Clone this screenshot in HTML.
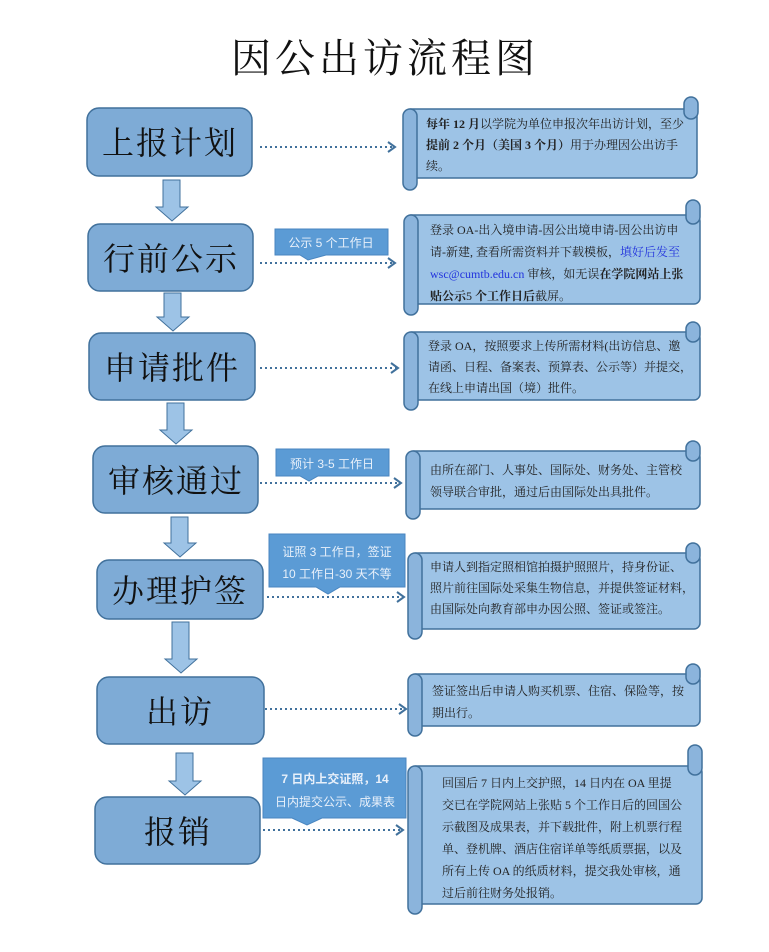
<!DOCTYPE html>
<html><head><meta charset="utf-8"><style>
body{margin:0;background:#fff;}
svg{display:block}
.bx{fill:#7eabd6;stroke:#41719c;stroke-width:1.5}
.bt{font-family:"Noto Serif CJK SC","Liberation Serif",serif;font-size:32px;fill:#111;text-anchor:middle;letter-spacing:2px}
.da{fill:#9dc3e6;stroke:#41719c;stroke-width:1}
.dot{stroke:#41719c;stroke-width:2;stroke-dasharray:2 3;fill:none}
.ah{stroke:#41719c;stroke-width:2;fill:none}
.co{fill:#5b9bd5;stroke:#4a86c0;stroke-width:1}
.ct{font-family:"Liberation Sans","Noto Sans CJK SC",sans-serif;font-size:12px;fill:#e8f0fa;text-anchor:middle}
.sc{fill:#9dc3e6;stroke:#41719c;stroke-width:1.5}
.sr{fill:#8bb4dc;stroke:#41719c;stroke-width:1.5}
.st{font-family:"Liberation Serif","Noto Serif CJK SC",serif;font-size:12px;fill:#222}
</style></head><body>
<svg width="769" height="952" viewBox="0 0 769 952">
<text x="385" y="72" font-family="Noto Serif CJK SC,serif" font-size="40" text-anchor="middle" fill="#111" letter-spacing="4">因公出访流程图</text>

<rect class="bx" x="87" y="108" width="165" height="68" rx="12"/><text class="bt" x="170" y="154">上报计划</text>
<rect class="bx" x="88" y="224" width="165" height="67" rx="12"/><text class="bt" x="171" y="270">行前公示</text>
<rect class="bx" x="89" y="333" width="166" height="67" rx="12"/><text class="bt" x="172" y="379">申请批件</text>
<rect class="bx" x="93" y="446" width="165" height="67" rx="12"/><text class="bt" x="176" y="492">审核通过</text>
<rect class="bx" x="97" y="560" width="166" height="59" rx="12"/><text class="bt" x="180" y="602">办理护签</text>
<rect class="bx" x="97" y="677" width="167" height="67" rx="12"/><text class="bt" x="180" y="723">出访</text>
<rect class="bx" x="95" y="797" width="165" height="67" rx="12"/><text class="bt" x="178" y="843">报销</text>

<g class="da">
<path d="M163 180 h17 v27 h8 l-16 14 l-16 -14 h7z"/>
<path d="M164 293 h17 v24 h8 l-16 14 l-16 -14 h7z"/>
<path d="M167 403 h17 v27 h8 l-16 14 l-16 -14 h7z"/>
<path d="M171 517 h17 v26 h8 l-16 14 l-16 -14 h7z"/>
<path d="M172 622 h17 v37 h8 l-16 14 l-16 -14 h7z"/>
<path d="M176 753 h17 v28 h8 l-16 14 l-16 -14 h7z"/>
</g>

<path class="dot" d="M260 147 H394"/><path class="ah" d="M388 142 l7 5 l-7 5"/>
<path class="dot" d="M260 263 H394"/><path class="ah" d="M388 258 l7 5 l-7 5"/>
<path class="dot" d="M260 368 H397"/><path class="ah" d="M391 363 l7 5 l-7 5"/>
<path class="dot" d="M260 483 H400"/><path class="ah" d="M394 478 l7 5 l-7 5"/>
<path class="dot" d="M267 597 H403"/><path class="ah" d="M397 592 l7 5 l-7 5"/>
<path class="dot" d="M265 709 H405"/><path class="ah" d="M399 704 l7 5 l-7 5"/>
<path class="dot" d="M263 830 H402"/><path class="ah" d="M396 825 l7 5 l-7 5"/>

<path class="co" d="M275 229 H388 V255 H326 L308 260 L300 255 H275Z"/><text class="ct" x="331" y="247">公示 5 个工作日</text>
<path class="co" d="M276 449 H389 V476 H318 L309 481 L300 476 H276Z"/><text class="ct" x="332" y="468">预计 3-5 工作日</text>
<path class="co" d="M269 534 H405 V587 H340 L328 594 L316 587 H269Z"/><text class="ct" x="337" y="556">证照 3 工作日，签证</text><text class="ct" x="337" y="578">10 工作日-30 天不等</text>
<path class="co" d="M263 758 H406 V818 H322 L307 825 L292 818 H263Z"/><text class="ct" x="335" y="783" font-weight="bold">7 日内上交证照，14</text><text class="ct" x="335" y="806">日内提交公示、成果表</text>

<g>
<rect class="sc" x="405" y="109" width="292" height="69" rx="6"/>
<rect class="sr" x="403" y="109" width="14" height="81" rx="7"/>
<rect class="sr" x="684" y="97" width="14" height="22" rx="7"/>
<text class="st"><tspan x="426" y="128"><tspan font-weight="bold">每年 12 月</tspan>以学院为单位申报次年出访计划，至少</tspan><tspan x="426" y="149"><tspan font-weight="bold">提前 2 个月（美国 3 个月）</tspan>用于办理因公出访手</tspan><tspan x="426" y="170">续。</tspan></text>
</g>
<g>
<rect class="sc" x="405" y="215" width="295" height="89" rx="6"/>
<rect class="sr" x="404" y="215" width="14" height="100" rx="7"/>
<rect class="sr" x="686" y="200" width="14" height="24" rx="7"/>
<text class="st"><tspan x="430" y="234">登录 OA-出入境申请-因公出境申请-因公出访申</tspan><tspan x="430" y="256">请-新建, 查看所需资料并下载模板，<tspan fill="#2233dd">填好后发至</tspan></tspan><tspan x="430" y="278"><tspan fill="#2233dd">wsc@cumtb.edu.cn</tspan> 审核，如无误<tspan font-weight="bold">在学院网站上张</tspan></tspan><tspan x="430" y="300"><tspan font-weight="bold">贴公示</tspan>5 <tspan font-weight="bold">个工作日后</tspan>截屏。</tspan></text>
</g>
<g>
<rect class="sc" x="406" y="332" width="294" height="68" rx="6"/>
<rect class="sr" x="404" y="332" width="14" height="78" rx="7"/>
<rect class="sr" x="686" y="322" width="14" height="20" rx="7"/>
<text class="st"><tspan x="428" y="350">登录 OA，按照要求上传所需材料(出访信息、邀</tspan><tspan x="428" y="371">请函、日程、备案表、预算表、公示等）并提交，</tspan><tspan x="428" y="392">在线上申请出国（境）批件。</tspan></text>
</g>
<g>
<rect class="sc" x="408" y="451" width="292" height="58" rx="6"/>
<rect class="sr" x="406" y="451" width="14" height="68" rx="7"/>
<rect class="sr" x="686" y="441" width="14" height="20" rx="7"/>
<text class="st"><tspan x="430" y="474">由所在部门、人事处、国际处、财务处、主管校</tspan><tspan x="430" y="496">领导联合审批，通过后由国际处出具批件。</tspan></text>
</g>
<g>
<rect class="sc" x="410" y="553" width="290" height="76" rx="6"/>
<rect class="sr" x="408" y="553" width="14" height="86" rx="7"/>
<rect class="sr" x="686" y="543" width="14" height="20" rx="7"/>
<text class="st"><tspan x="430" y="571">申请人到指定照相馆拍摄护照照片，持身份证、</tspan><tspan x="430" y="592">照片前往国际处采集生物信息，并提供签证材料，</tspan><tspan x="430" y="613">由国际处向教育部申办因公照、签证或签注。</tspan></text>
</g>
<g>
<rect class="sc" x="410" y="674" width="290" height="52" rx="6"/>
<rect class="sr" x="408" y="674" width="14" height="62" rx="7"/>
<rect class="sr" x="686" y="664" width="14" height="20" rx="7"/>
<text class="st"><tspan x="432" y="695">签证签出后申请人购买机票、住宿、保险等，按</tspan><tspan x="432" y="717">期出行。</tspan></text>
</g>
<g>
<rect class="sc" x="410" y="766" width="292" height="138" rx="6"/>
<rect class="sr" x="408" y="766" width="14" height="148" rx="7"/>
<rect class="sr" x="688" y="745" width="14" height="30" rx="7"/>
<text class="st"><tspan x="442" y="787">回国后 7 日内上交护照，14 日内在 OA 里提</tspan><tspan x="442" y="809">交已在学院网站上张贴 5 个工作日后的回国公</tspan><tspan x="442" y="831">示截图及成果表，并下载批件，附上机票行程</tspan><tspan x="442" y="853">单、登机牌、酒店住宿详单等纸质票据，以及</tspan><tspan x="442" y="875">所有上传 OA 的纸质材料，提交我处审核，通</tspan><tspan x="442" y="897">过后前往财务处报销。</tspan></text>
</g>
</svg>
</body></html>
